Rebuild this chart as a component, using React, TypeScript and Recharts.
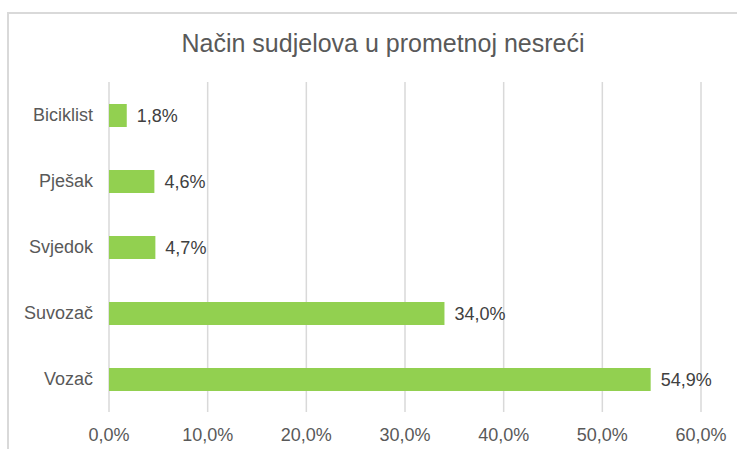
import React from 'react';
import { BarChart, Bar, XAxis, YAxis, CartesianGrid, LabelList } from 'recharts';

const categories = ['Biciklist', 'Pješak', 'Svjedok', 'Suvozač', 'Vozač'];
const shares = [1.8, 4.6, 4.7, 34.0, 54.9];
const xTicks = [0, 10, 20, 30, 40, 50, 60];

const data = categories.map((name, i) => ({ name, value: shares[i] }));

const pct = (v: number) => `${Number(v).toFixed(1).replace('.', ',')}%`;

const FONT = '"Liberation Sans", Arial, sans-serif';

export default function App() {
    return (
        <div style={{ position: 'absolute', left: 0, top: 0, width: 737, height: 449, overflow: 'hidden', background: '#fff', fontFamily: FONT }}>
            <div style={{ position: 'absolute', left: 7, top: 12, width: 760, height: 460, border: '2px solid #d9d9d9', boxSizing: 'border-box' }} />
            <div style={{ position: 'absolute', left: 7, width: 752, top: 29, textAlign: 'center', fontSize: 25, color: '#595959' }}>
                Način sudjelova u prometnoj nesreći
            </div>
            <div style={{ position: 'absolute', left: 0, top: 0 }}>
                <BarChart
                    width={737}
                    height={449}
                    data={data}
                    layout="vertical"
                    margin={{ top: 82, right: 36, bottom: 7, left: 9 }}
                    barSize={23}
                >
                    <CartesianGrid horizontal={false} stroke="#d9d9d9" strokeWidth={1.5} />
                    <XAxis
                        type="number"
                        domain={[0, 60]}
                        ticks={xTicks}
                        tickFormatter={pct}
                        axisLine={false}
                        tickLine={false}
                        tickMargin={10}
                        height={30}
                        tick={{ fill: '#595959', fontSize: 18, fontFamily: FONT }}
                    />
                    <YAxis
                        type="category"
                        dataKey="name"
                        width={100}
                        axisLine={false}
                        tickLine={false}
                        tickMargin={10}
                        tick={{ fill: '#595959', fontSize: 18, fontFamily: FONT }}
                    />
                    <Bar dataKey="value" fill="#92d050" isAnimationActive={false}>
                        <LabelList
                            dataKey="value"
                            position="right"
                            offset={10}
                            formatter={(v: any) => pct(v)}
                            style={{ fill: '#404040', fontSize: 18, fontFamily: FONT }}
                        />
                    </Bar>
                </BarChart>
            </div>
        </div>
    );
}
